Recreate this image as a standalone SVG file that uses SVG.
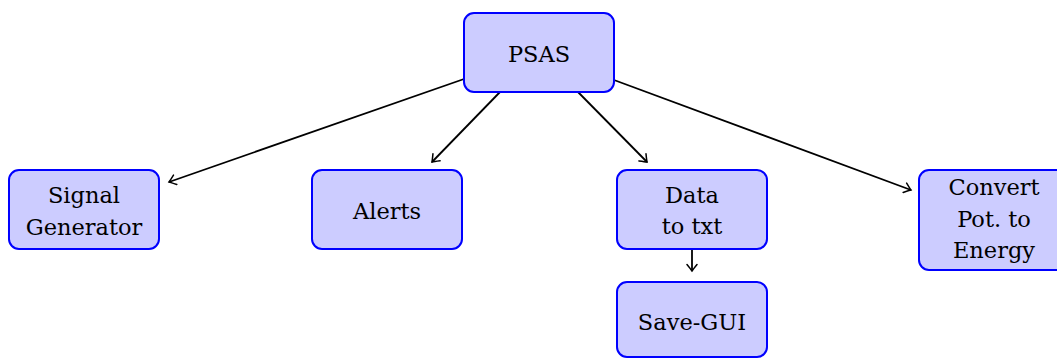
<svg xmlns="http://www.w3.org/2000/svg" width="1057" height="358" viewBox="0 0 1057 358">
<style>
.node rect{fill:#ccccff;stroke:#0000ff;stroke-width:2}
.node text{font-family:'DejaVu Serif',serif;font-size:22.5px;fill:#000;text-anchor:middle}
.edges line{stroke:#000;stroke-width:1.8;fill:none}
</style>
<defs>
<marker id="arr" viewBox="-8 -6 10 12" markerWidth="10" markerHeight="12" refX="0" refY="0" orient="auto" markerUnits="userSpaceOnUse">
<path d="M-6.5,-5 Q-1.5,-1 0,0 Q-1.5,1 -6.5,5" fill="none" stroke="#000" stroke-width="1.5" stroke-linecap="round"/>
</marker>
</defs>
<g class="edges">
<line x1="464" y1="79" x2="169" y2="182" marker-end="url(#arr)"/>
<line x1="500" y1="92" x2="432" y2="162" marker-end="url(#arr)"/>
<line x1="578" y1="92" x2="647" y2="162" marker-end="url(#arr)"/>
<line x1="614" y1="80" x2="911" y2="190" marker-end="url(#arr)"/>
<line x1="692" y1="250" x2="692" y2="271" marker-end="url(#arr)"/>
</g>
<g id="psas" class="node"><rect x="464" y="13" width="150" height="79" rx="10"/><text x="539" y="62">PSAS</text></g>
<g id="siggen" class="node"><rect x="9" y="170" width="150" height="79" rx="10"/><text x="84" y="203">Signal</text><text x="84" y="235">Generator</text></g>
<g id="alerts" class="node"><rect x="312" y="170" width="150" height="79" rx="10"/><text x="387" y="219">Alerts</text></g>
<g id="datatxt" class="node"><rect x="617" y="170" width="150" height="79" rx="10"/><text x="692" y="203">Data</text><text x="692" y="234">to txt</text></g>
<g id="savegui" class="node"><rect x="617" y="282" width="150" height="75" rx="10"/><text x="692" y="330">Save-GUI</text></g>
<g id="convert" class="node"><rect x="919" y="170" width="150" height="100" rx="10"/><text x="994" y="195">Convert</text><text x="994" y="227">Pot. to</text><text x="994" y="258">Energy</text></g>
</svg>
